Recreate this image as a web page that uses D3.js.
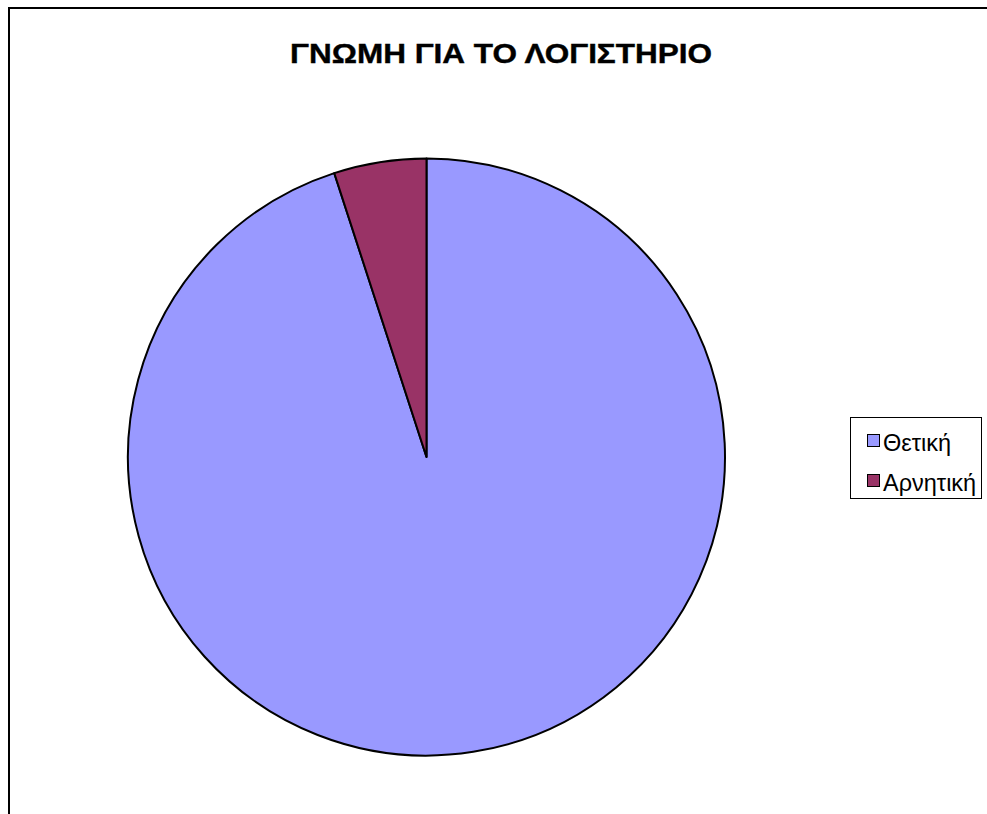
<!DOCTYPE html>
<html>
<head>
<meta charset="utf-8">
<script src="https://cdn.jsdelivr.net/npm/d3@7/dist/d3.min.js"></script>
<style>
  html, body { margin: 0; padding: 0; background: #fff; }
  svg { display: block; }
</style>
</head>
<body>
<svg id="chart" width="987" height="814"></svg>
<script>
// Survey answers about the accounting office
const categories = ["Θετική", "Αρνητική"];
const values = [95, 5];
const colors = ["#9999FF", "#993366"];
const title = "ΓΝΩΜΗ ΓΙΑ ΤΟ ΛΟΓΙΣΤΗΡΙΟ";

const svg = d3.select("#chart");
const font = "'Liberation Sans', Arial, sans-serif";

// Chart area frame (runs off the right and bottom edges)
svg.append("rect")
  .attr("x", 9).attr("y", 8)
  .attr("width", 1100).attr("height", 900)
  .attr("fill", "#fff")
  .attr("stroke", "#000")
  .attr("stroke-width", 2);

// Title (wide bold lettering)
svg.append("text")
  .attr("x", 501).attr("y", 63)
  .attr("text-anchor", "middle")
  .attr("font-family", font)
  .attr("font-weight", "bold")
  .attr("font-size", 27)
  .attr("textLength", 422)
  .attr("lengthAdjust", "spacingAndGlyphs")
  .attr("stroke", "#000")
  .attr("stroke-width", 0.4)
  .text(title);

// Pie
const cx = 426.5, cy = 457, r = 298.5;
const color = d3.scaleOrdinal().domain(categories).range(colors);
const pie = d3.pie().sort(null).value(d => d.value);
const arc = d3.arc().innerRadius(0).outerRadius(r);
const data = categories.map((c, i) => ({ name: c, value: values[i] }));

svg.append("g")
  .attr("transform", `translate(${cx},${cy})`)
  .selectAll("path")
  .data(pie(data))
  .join("path")
  .attr("d", arc)
  .attr("fill", d => color(d.data.name))
  .attr("stroke", "#000")
  .attr("stroke-width", 2)
  .attr("stroke-linejoin", "round");

// Legend
const legend = svg.append("g");
legend.append("rect")
  .attr("x", 850.5).attr("y", 417.5)
  .attr("width", 131).attr("height", 81)
  .attr("fill", "#fff")
  .attr("stroke", "#000")
  .attr("stroke-width", 1);

const items = legend.selectAll("g.item")
  .data(categories)
  .join("g")
  .attr("class", "item")
  .attr("transform", (d, i) => `translate(0, ${i * 40})`);

items.append("rect")
  .attr("x", 867.5).attr("y", 434.5)
  .attr("width", 12).attr("height", 12)
  .attr("fill", d => color(d))
  .attr("stroke", "#000")
  .attr("stroke-width", 1);

items.append("text")
  .attr("x", 883).attr("y", 450.5)
  .attr("font-family", font)
  .attr("font-size", 23.5)
  .text(d => d);
</script>
</body>
</html>
